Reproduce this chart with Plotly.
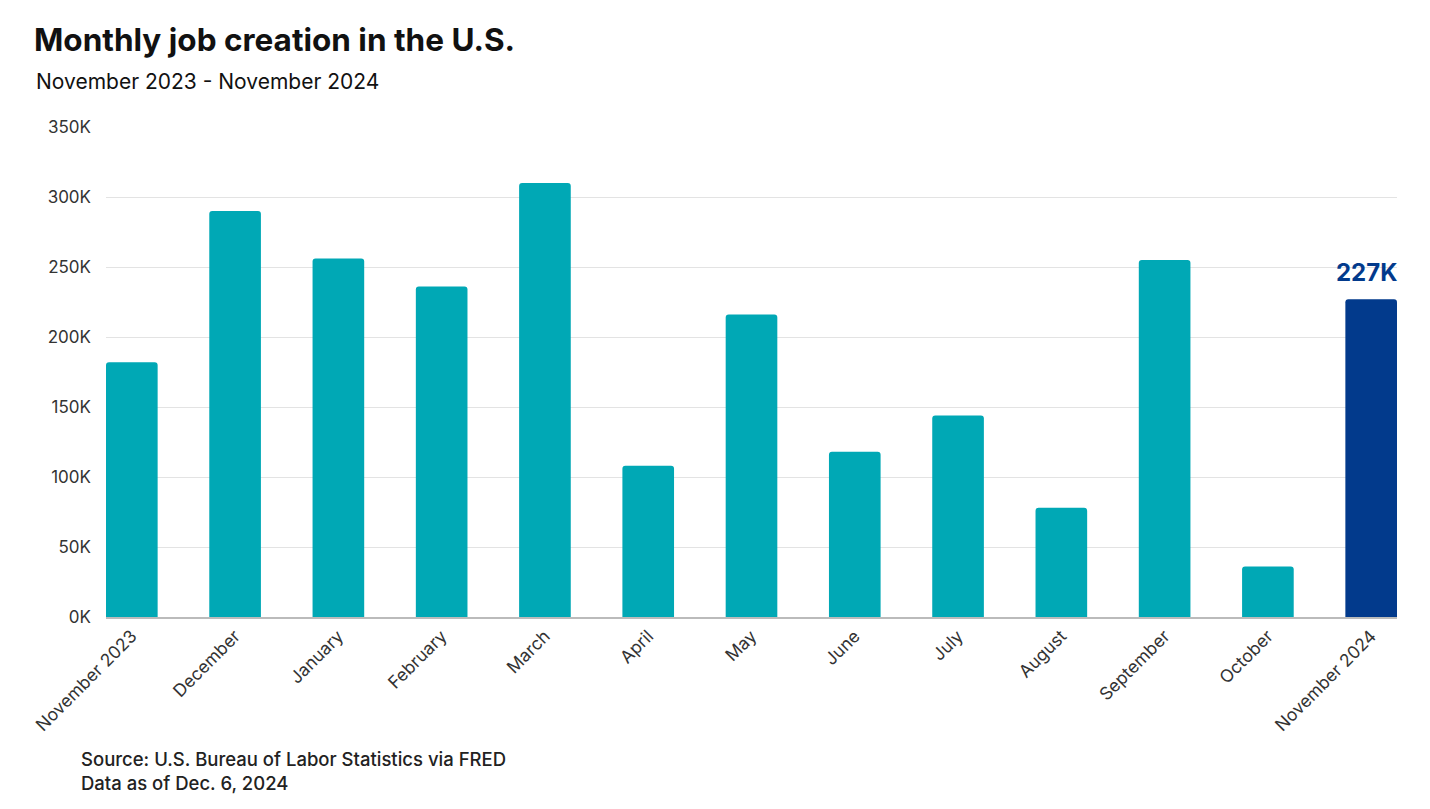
import plotly.graph_objects as go

months = ["November 2023", "December", "January", "February", "March", "April", "May",
          "June", "July", "August", "September", "October", "November 2024"]
jobs = [182000, 290000, 256000, 236000, 310000, 108000, 216000, 118000, 144000, 78000, 255000, 36000, 227000]
highlight_label = "227K"
y_ticks = [0, 50000, 100000, 150000, 200000, 250000, 300000, 350000]
y_tick_text = ["0K", "50K", "100K", "150K", "200K", "250K", "300K", "350K"]

teal = "#00A8B5"
navy = "#023A8C"
colors = [teal] * (len(months) - 1) + [navy]
font = "Inter, Open Sans, sans-serif"

W, H = 1422, 801   # page body has an 8px margin
OFF = 8

fig = go.Figure(go.Bar(
    x=months, y=jobs, marker=dict(color=colors, line=dict(width=0), cornerradius=3),
    width=0.5, hoverinfo="x+y"))

fig.add_annotation(x=months[-1], y=jobs[-1], text="<b>" + highlight_label + "</b>",
                   showarrow=False, yanchor="bottom", yshift=10, xshift=-5,
                   font=dict(family=font, size=24, color=navy))

fig.update_layout(
    width=W, height=H,
    margin=dict(l=106 - OFF, r=33, t=127 - OFF, b=H - (617 - OFF)),
    paper_bgcolor="white", plot_bgcolor="white",
    showlegend=False,
    font=dict(family=font, color="#333333"),
    title=dict(text="<b>Monthly job creation in the U.S.</b>", x=(34 - OFF) / W, xref="container",
               xanchor="left", y=1 - (40 - OFF) / H, yref="container", yanchor="middle",
               font=dict(family=font, size=31.5, color="#111111")),
    xaxis=dict(range=[-0.25, 12.25], tickangle=-45, tickfont=dict(size=17.5, color="#333333"),
               showgrid=False, showline=True, linecolor="#BBBBBB", linewidth=2, ticks=""),
    yaxis=dict(range=[0, 350000], tickvals=y_ticks, ticktext=y_tick_text,
               tickfont=dict(size=17, color="#333333"), gridcolor="#E3E3E3", gridwidth=1,
               zeroline=False, ticks="", ticklabelstandoff=14),
)

plot_w = 1397 - 106
plot_h = 617 - 127
fig.add_annotation(text="November 2023 - November 2024", xref="paper", yref="paper",
                   x=-(106 - 34) / plot_w, y=1 + (127 - 81) / plot_h, xanchor="left", yanchor="middle",
                   showarrow=False, font=dict(family=font, size=21, color="#111111"))
fig.add_annotation(text="Source: U.S. Bureau of Labor Statistics via FRED<br>Data as of Dec. 6, 2024",
                   xref="paper", yref="paper", x=-(106 - 79) / plot_w, y=-(771 - 617) / plot_h,
                   xanchor="left", yanchor="middle", align="left", showarrow=False,
                   font=dict(family=font, size=18.5, color="#222222", weight=500))

fig.write_html("out.html")
